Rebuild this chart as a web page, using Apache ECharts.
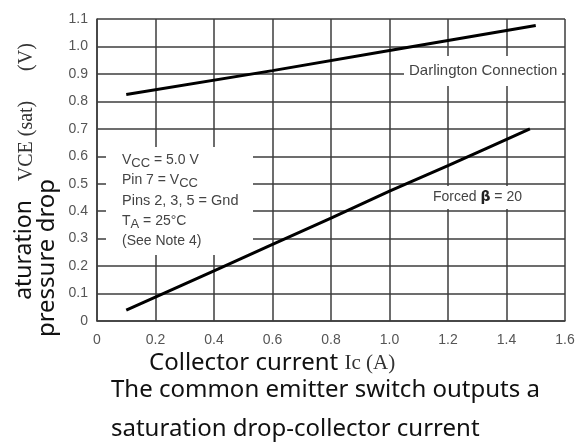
<!DOCTYPE html>
<html>
<head>
<meta charset="utf-8">
<script src="https://cdn.jsdelivr.net/npm/echarts@6/dist/echarts.min.js"></script>
<style>
  html, body { margin: 0; padding: 0; background: #fff; }
  #chart { width: 581px; height: 444px; }
</style>
</head>
<body>
<div id="chart"></div>
<script>
// Darlington connection curve
const darlingtonIc = [0.1, 0.6, 1.0, 1.5]
const darlingtonV = [0.825, 0.912, 0.985, 1.076]
// forced beta = 20 curve
const forcedIc = [0.1, 0.4, 0.8, 1.0, 1.2, 1.48]
const forcedV = [0.04, 0.183, 0.375, 0.473, 0.566, 0.70]

const xTickLabels = ['0', '0.2', '0.4', '0.6', '0.8', '1.0', '1.2', '1.4', '1.6']
const yTickLabels = ['0', '0.1', '0.2', '0.3', '0.4', '0.5', '0.6', '0.7', '0.8', '0.9', '1.0', '1.1']

const narrow = '"Liberation Sans", Arial, sans-serif'
const gridColor = '#3c3c3c'
const noteColor = '#444'

let chart = echarts.init(document.getElementById('chart'))

let toPairs = (xs, ys) => xs.map((x, i) => [x, ys[i]])

let option = {
  backgroundColor: '#fff',
  animation: false,
  grid: { left: 97, top: 19, width: 468, height: 302 },
  xAxis: {
    type: 'value',
    min: 0,
    max: 1.6,
    interval: 0.2,
    axisLine: { show: true, lineStyle: { color: gridColor, width: 1.5 } },
    axisTick: { show: false },
    splitLine: { lineStyle: { color: gridColor, width: 1.5 } },
    axisLabel: {
      margin: 12,
      color: '#555',
      fontSize: 14,
      fontFamily: narrow,
      formatter: (v) => xTickLabels[Math.round(v / 0.2)],
    },
  },
  yAxis: {
    type: 'value',
    min: 0,
    max: 1.1,
    interval: 0.1,
    axisLine: { show: true, lineStyle: { color: gridColor, width: 1.5 } },
    axisTick: { show: false },
    splitLine: { lineStyle: { color: gridColor, width: 1.5 } },
    axisLabel: {
      margin: 9,
      color: '#555',
      fontSize: 14,
      fontFamily: narrow,
      formatter: (v) => yTickLabels[Math.round(v / 0.1)],
    },
  },
  series: [
    {
      name: 'Darlington Connection',
      type: 'line',
      data: toPairs(darlingtonIc, darlingtonV),
      symbol: 'none',
      lineStyle: { color: '#000', width: 3 },
      z: 5,
    },
    {
      name: 'Forced β = 20',
      type: 'line',
      data: toPairs(forcedIc, forcedV),
      smooth: 0.2,
      symbol: 'none',
      lineStyle: { color: '#000', width: 3 },
      z: 5,
    },
  ],
  graphic: [
    // white boxes that break the grid behind the notes
    { type: 'rect', z: 1, shape: { x: 106, y: 147, width: 147, height: 108 }, style: { fill: '#fff' } },
    { type: 'rect', z: 1, shape: { x: 404, y: 56, width: 158, height: 30 }, style: { fill: '#fff' } },
    { type: 'rect', z: 1, shape: { x: 429, y: 186, width: 100, height: 23 }, style: { fill: '#fff' } },
    {
      type: 'text', z: 2, x: 409, y: 71,
      style: { text: 'Darlington Connection', fontSize: 15, fontFamily: narrow, fill: noteColor, textVerticalAlign: 'middle' },
    },
    {
      type: 'text', z: 2, x: 433, y: 197,
      style: {
        text: 'Forced {b|β} = 20', fontSize: 14, fontFamily: narrow, fill: noteColor, textVerticalAlign: 'middle',
        rich: { b: { fontSize: 14, fontWeight: 'bold', fontFamily: 'DejaVu Sans', fill: '#222' } },
      },
    },
    {
      type: 'text', z: 2, x: 122, y: 160,
      style: {
        text: 'V{s|CC} = 5.0 V', fontSize: 14, fontFamily: narrow, fill: noteColor, textVerticalAlign: 'middle',
        rich: { s: { fontSize: 13, fontFamily: narrow, fill: noteColor, padding: [7, 0, 0, 0] } },
      },
    },
    {
      type: 'text', z: 2, x: 122, y: 180,
      style: {
        text: 'Pin 7 = V{s|CC}', fontSize: 14, fontFamily: narrow, fill: noteColor, textVerticalAlign: 'middle',
        rich: { s: { fontSize: 13, fontFamily: narrow, fill: noteColor, padding: [7, 0, 0, 0] } },
      },
    },
    {
      type: 'text', z: 2, x: 122, y: 201,
      style: { text: 'Pins 2, 3, 5 = Gnd', fontSize: 14.5, fontFamily: narrow, fill: noteColor, textVerticalAlign: 'middle' },
    },
    {
      type: 'text', z: 2, x: 122, y: 221,
      style: {
        text: 'T{s|A} = 25°C', fontSize: 14, fontFamily: narrow, fill: noteColor, textVerticalAlign: 'middle',
        rich: { s: { fontSize: 13, fontFamily: narrow, fill: noteColor, padding: [7, 0, 0, 0] } },
      },
    },
    {
      type: 'text', z: 2, x: 122, y: 241,
      style: { text: '(See Note 4)', fontSize: 14, fontFamily: narrow, fill: noteColor, textVerticalAlign: 'middle' },
    },
    // y axis title, two rotated columns
    {
      type: 'text', x: 24, y: 250, rotation: Math.PI / 2,
      style: { text: 'aturation', fontSize: 23, fontFamily: '"Noto Sans"', fill: '#111', textAlign: 'center', textVerticalAlign: 'middle' },
    },
    {
      type: 'text', x: 27, y: 141, rotation: Math.PI / 2,
      style: { text: 'VCE (sat)', fontSize: 20, fontFamily: '"Liberation Serif"', fill: '#333', textAlign: 'center', textVerticalAlign: 'middle' },
    },
    {
      type: 'text', x: 27, y: 57, rotation: Math.PI / 2,
      style: { text: '(V)', fontSize: 20, fontFamily: '"Liberation Serif"', fill: '#333', textAlign: 'center', textVerticalAlign: 'middle' },
    },
    {
      type: 'text', x: 47, y: 258, rotation: Math.PI / 2,
      style: { text: 'pressure drop', fontSize: 24, fontFamily: '"Noto Sans"', fill: '#111', textAlign: 'center', textVerticalAlign: 'middle' },
    },
    // x axis title
    {
      type: 'text', x: 149, y: 363,
      style: {
        text: 'Collector current {s|Ic (A)}', fontSize: 24, fontFamily: '"Noto Sans"', fill: '#111', textVerticalAlign: 'middle',
        rich: { s: { fontSize: 21, fontFamily: '"Liberation Serif"', fill: '#333' } },
      },
    },
    // caption
    {
      type: 'text', x: 111, y: 390,
      style: { text: 'The common emitter switch outputs a', fontSize: 24, fontFamily: '"Noto Sans"', fill: '#111', textVerticalAlign: 'middle' },
    },
    {
      type: 'text', x: 111, y: 429,
      style: { text: 'saturation drop-collector current', fontSize: 24, fontFamily: '"Noto Sans"', fill: '#111', textVerticalAlign: 'middle' },
    },
  ],
}
chart.setOption(option)
</script>
</body>
</html>
